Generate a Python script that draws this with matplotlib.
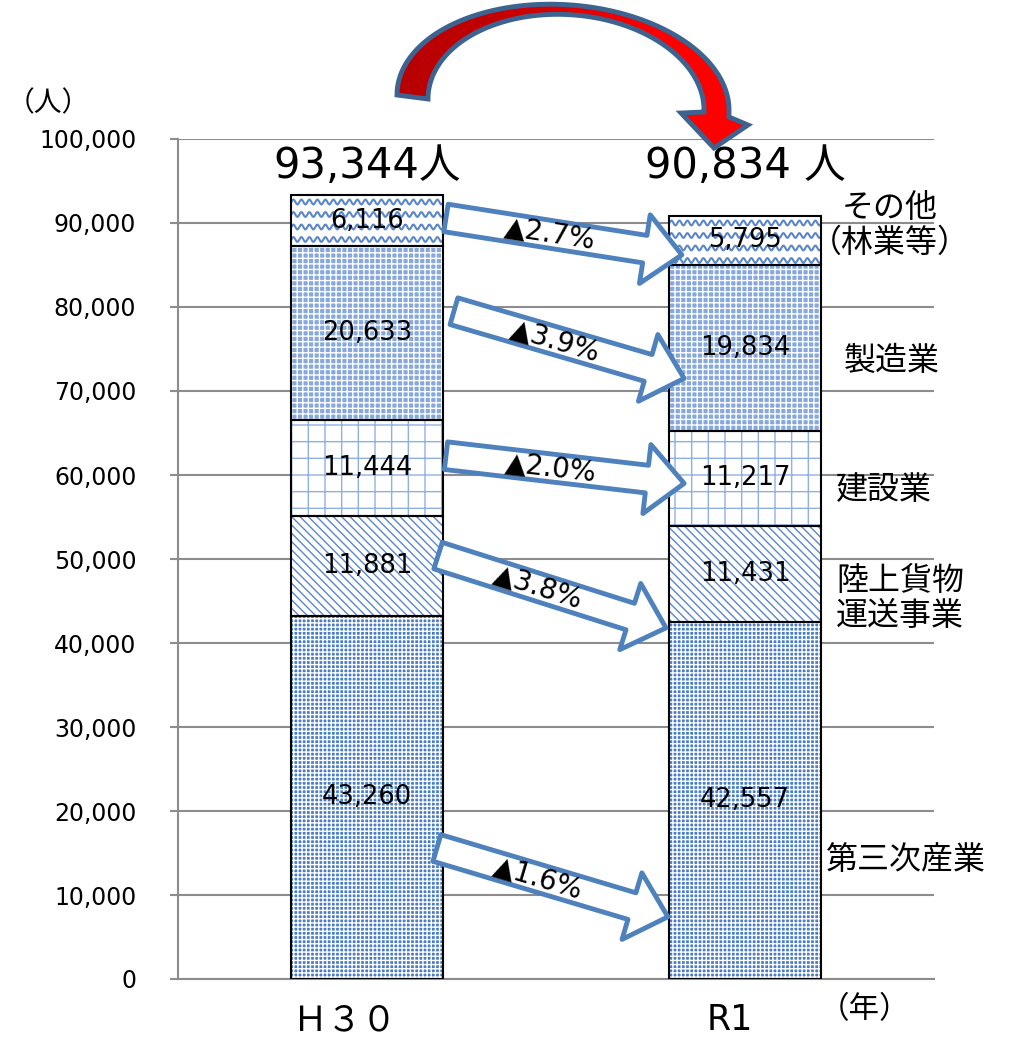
import numpy as np
import matplotlib
matplotlib.use("Agg")
import matplotlib.pyplot as plt
from matplotlib.patches import Polygon
from matplotlib.transforms import IdentityTransform, blended_transform_factory
from matplotlib.colors import LinearSegmentedColormap
from matplotlib.ticker import FuncFormatter, MultipleLocator

plt.rcParams['font.family'] = ['DejaVu Sans', 'Noto Sans CJK JP']
plt.rcParams['hatch.linewidth'] = 1.0

# --------------------------------------------------------------------------- #
# data (people), stacked bottom -> top
# --------------------------------------------------------------------------- #
YEARS = ['Ｈ３０', 'R1']
SERIES = ['第三次産業', '陸上貨物\n運送事業', '建設業', '製造業', 'その他\n（林業等）']
H30 = [43260, 11881, 11444, 20633, 6116]
R1 = [42557, 11431, 11217, 19834, 5795]
TOTAL_LABELS = ['93,344人', '90,834 人']
CHANGE_LABELS = ['▲1.6%', '▲3.8%', '▲2.0%', '▲3.9%', '▲2.7%']

# block-arrow ends (x in category units, y in people)
ARROW_TAIL = [(0.185, 15600), (0.188, 50400), (0.209, 62300), (0.230, 79500), (0.209, 90600)]
ARROW_TIP = [(0.796, 7400), (0.791, 41800), (0.839, 59000), (0.839, 71500), (0.833, 86200)]

W, H = 1009, 1038
BLUE = '#4f81bd'

fig = plt.figure(figsize=(W / 100, H / 100), dpi=100)
ax = fig.add_axes([178 / W, 1 - 979 / H, 756 / W, 840 / H])
ax.set_xlim(-0.5, 1.5)
ax.set_ylim(0, 100000)

# overlay in pixel coordinates (y down) for free-floating labels and the curved arrow
ov = fig.add_axes([0, 0, 1, 1], zorder=5)
ov.patch.set_visible(False)
ov.axis('off')
ov.set_xlim(0, W)
ov.set_ylim(H, 0)

x = np.arange(len(YEARS))
values = np.array([H30, R1]).T   # (series, years)
bottoms = np.vstack([np.zeros(len(YEARS)), np.cumsum(values, axis=0)[:-1]])

# fill styles: (facecolor, hatch colour, hatch); None -> wavy lines
FILLS = [('#4a7dc8', 'white', '++++'),
         ('white', '#5b87c8', '\\\\\\\\'),
         ('white', '#8fb0e0', '+'),
         ('#86a8dc', 'white', '+++'),
         ('white', None, None)]

bw = 0.4
for i, (fc, hc, hatch) in enumerate(FILLS):
    fill = ax.bar(x, values[i], bw, bottom=bottoms[i], color=fc,
                  edgecolor=hc or fc, hatch=hatch, lw=0, zorder=2)
    if hatch is None:
        for rect in fill:
            (x0, y0), (x1, y1) = ax.transData.transform(
                [(rect.get_x(), rect.get_y()),
                 (rect.get_x() + rect.get_width(), rect.get_y() + rect.get_height())])
            xs = np.arange(x0 - 2, x1 + 2, 0.5)
            for yc in np.arange(y1 - 7, y0 - 8, -12.5):
                ln, = ax.plot(xs, yc + 2.4 * np.sin(2 * np.pi * (xs - x0) / 8.0),
                              color='#5b87c8', lw=1.5, transform=IdentityTransform(),
                              zorder=2.5)
                ln.set_clip_path(rect)
    ax.bar(x, values[i], bw, bottom=bottoms[i], facecolor='none',
           edgecolor='black', lw=1.5, zorder=3)

# segment value labels
for i in range(len(SERIES)):
    for j in range(len(YEARS)):
        ax.text(x[j], bottoms[i][j] + values[i][j] / 2, f'{values[i][j]:,}',
                ha='center', va='center', fontsize=18.5, zorder=5)

# totals above bars
for j, lab in enumerate(TOTAL_LABELS):
    ax.text(x[j], 96800, lab, ha='center', va='center', fontsize=30)

ax.yaxis.set_major_locator(MultipleLocator(10000))
ax.yaxis.set_major_formatter(FuncFormatter(lambda v, p: f'{int(v):,}'))
ax.yaxis.grid(True, color='#8c8c8c', lw=1.5)
ax.set_axisbelow(True)
ax.set_xticks(x, [''] * len(YEARS))
ax.tick_params(axis='x', length=0)
ax.tick_params(axis='y', length=6, width=1.5, color='#8c8c8c', pad=24, labelsize=17)
for s in ('top', 'right'):
    ax.spines[s].set_visible(False)
for s in ('left', 'bottom'):
    ax.spines[s].set_color('#8c8c8c')
    ax.spines[s].set_linewidth(1.5)

# category labels: x follows the bars, y in pixels (sitting a bit left of centre)
xlab = blended_transform_factory(ax.transData, ov.transData)
for j, (lab, dx) in enumerate(zip(YEARS, (-0.058, -0.04))):
    ax.text(x[j] + dx, 1037, lab, transform=xlab, ha='center', va='bottom',
            fontsize=25, clip_on=False)

# change arrows between the bars
for (tx, ty), (hx, hy), lab in zip(ARROW_TAIL, ARROW_TIP, CHANGE_LABELS):
    ax.annotate('', xy=(hx, hy), xytext=(tx, ty), annotation_clip=False,
                arrowprops=dict(arrowstyle='simple,tail_width=2.0,head_width=5.0,head_length=2.7',
                                mutation_scale=10, fc='white', ec=BLUE, lw=3.5,
                                shrinkA=0, shrinkB=0), zorder=6)
    (px0, py0), (px1, py1) = ax.transData.transform([(tx, ty), (hx, hy)])
    ang = np.degrees(np.arctan2(py1 - py0, px1 - px0))
    f = 0.44
    ax.text(tx + f * (hx - tx), ty + f * (hy - ty), lab, rotation=ang,
            rotation_mode='anchor', ha='center', va='center', fontsize=20, zorder=7)

LABEL_POS = [(906, 860), (900, 599), (884, 491), (892, 361), (890, 226)]
for name, (lx, ly) in zip(SERIES, LABEL_POS):
    ov.text(lx, ly, name, ha='center', va='center', fontsize=23, linespacing=1.15)
ov.text(48, 103, '（人）', ha='center', va='center', fontsize=20)
ov.text(865, 1010, '（年）', ha='center', va='center', fontsize=22)

# curved "down" arrow: two elliptical edges plus a head
t = np.linspace(np.pi, 0, 160)


def edge(cx, a, b, yl, yr):
    cy = yl + (yr - yl) * (np.cos(t) + 1) / 2
    return cx + a * np.cos(t), cy - b * np.sin(t)


ox, oy = edge(563, 166, 98, 95, 110)
ix, iy = edge(566, 138, 90, 99, 110)
head = [(729, 117), (748, 125), (714, 148), (681, 113), (704, 112)]
pts = np.vstack([np.column_stack([ox, oy]), head, np.column_stack([ix[::-1], iy[::-1]])])
shape = Polygon(pts, closed=True, fc='#d00000', ec='none', zorder=1)
ov.add_patch(shape)
grad = np.linspace(0, 1, 256).reshape(1, -1)
cmap = LinearSegmentedColormap.from_list('red', ['#b80000', '#c00000', '#e00000', '#ff0000', '#ff0000'])
ov.imshow(grad, extent=[395, 750, 150, 0], cmap=cmap, aspect='auto', zorder=2, clip_path=shape)
ov.add_patch(Polygon(pts, closed=True, fc='none', ec='#3d6491', lw=3.5, joinstyle='miter', zorder=3))
ov.set_xlim(0, W)
ov.set_ylim(H, 0)

fig.savefig('out.png', dpi=100)
